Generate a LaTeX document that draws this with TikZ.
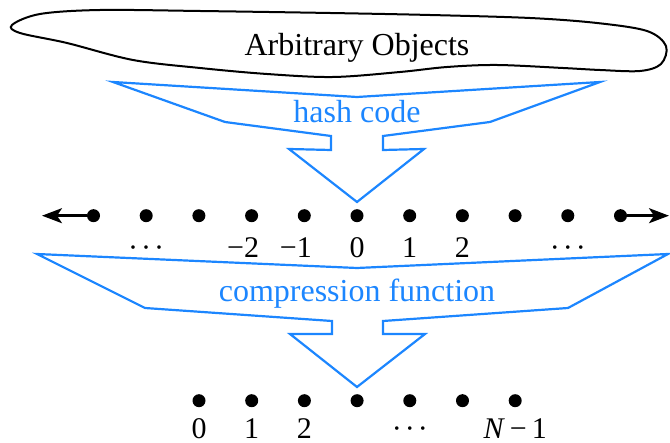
\documentclass[tikz,border=0pt]{standalone}
\usepackage{fontspec}
\newfontfamily\timesfont{Liberation Serif}
\usepackage{xcolor}
\usepackage{tikz}
\usetikzlibrary{arrows.meta, positioning}
\definecolor{hashblue}{RGB}{28, 134, 255}
\newcommand{\ellips}{·\kern3pt·\kern3pt·}

\begin{document}
\begin{tikzpicture}[x=1pt, y=-1pt,
    dot/.style={circle, fill=black, inner sep=0pt, minimum size=13pt},
    numlabel/.style={inner sep=0pt, text height=20pt, text depth=0pt, font=\timesfont\fontsize{30}{36}\selectfont},
    caption/.style={inner sep=0pt, anchor=base, font=\timesfont\fontsize{32}{38}\selectfont},
    funnel/.style={draw=hashblue, line width=2.2pt},
    line/.style={draw, line width=2.4pt, -{Stealth[length=20pt, width=15pt, inset=5pt]}}]
  \useasboundingbox (0,0) rectangle (670,443);

  % cloud of arbitrary objects
  \draw[line width=2pt] plot[smooth cycle, tension=0.55] coordinates {
    (12,25) (40,14) (100,10) (200,11) (330,13) (430,15) (530,18) (597,23)
    (647,31) (666,46) (661,64) (640,71) (600,70) (563,68) (497,65) (447,67)
    (400,72) (333,77) (267,74) (200,68) (133,60) (67,43) (20,33)};
  \node[caption] (objects) at (357,56) {Arbitrary Objects};

  % hash code funnel
  \draw[funnel] (113,82) -- (357,97) -- (600,82) -- (490,122) -- (383,136) -- (383,150)
    -- (424,149) -- (357,202) -- (289,149) -- (331,150) -- (331,136) -- (225,122) -- cycle;
  \node[caption, text=hashblue] (hash) at (357,123) {hash code};

  % integers
  \foreach \i in {-5,...,5}
    \node[dot] (z\i) at (357+52.7*\i, 215.7) {};
  \foreach \i/\txt in {-4/\ellips, -2/{\llap{−}2}, -1/{\llap{−}1}, 0/0, 1/1, 2/2, 4/\ellips}
    \node[numlabel, below=14.5pt of z\i] (lz\i) {\txt};
  \coordinate (lend) at (42,215.7);
  \coordinate (rend) at (669,215.7);
  \draw[line] (z-5) -- (lend);
  \draw[line] (z5) -- (rend);

  % compression function funnel
  \draw[funnel] (37,254) -- (357,268) -- (668,254) -- (568,308) -- (383,321) -- (383,334)
    -- (425,334) -- (357,387) -- (290,334) -- (332,334) -- (332,321) -- (145,308) -- cycle;
  \node[caption, text=hashblue] (compress) at (357,302) {compression function};

  % residues 0..N-1
  \foreach \j in {0,...,6}
    \node[dot] (r\j) at (199+52.7*\j, 400.7) {};
  \foreach \j/\txt in {0/0, 1/1, 2/2, 4/\ellips, 6/{\textit{N}\,−\,1}}
    \node[numlabel, below=11pt of r\j] (lr\j) {\txt};
\end{tikzpicture}
\end{document}
